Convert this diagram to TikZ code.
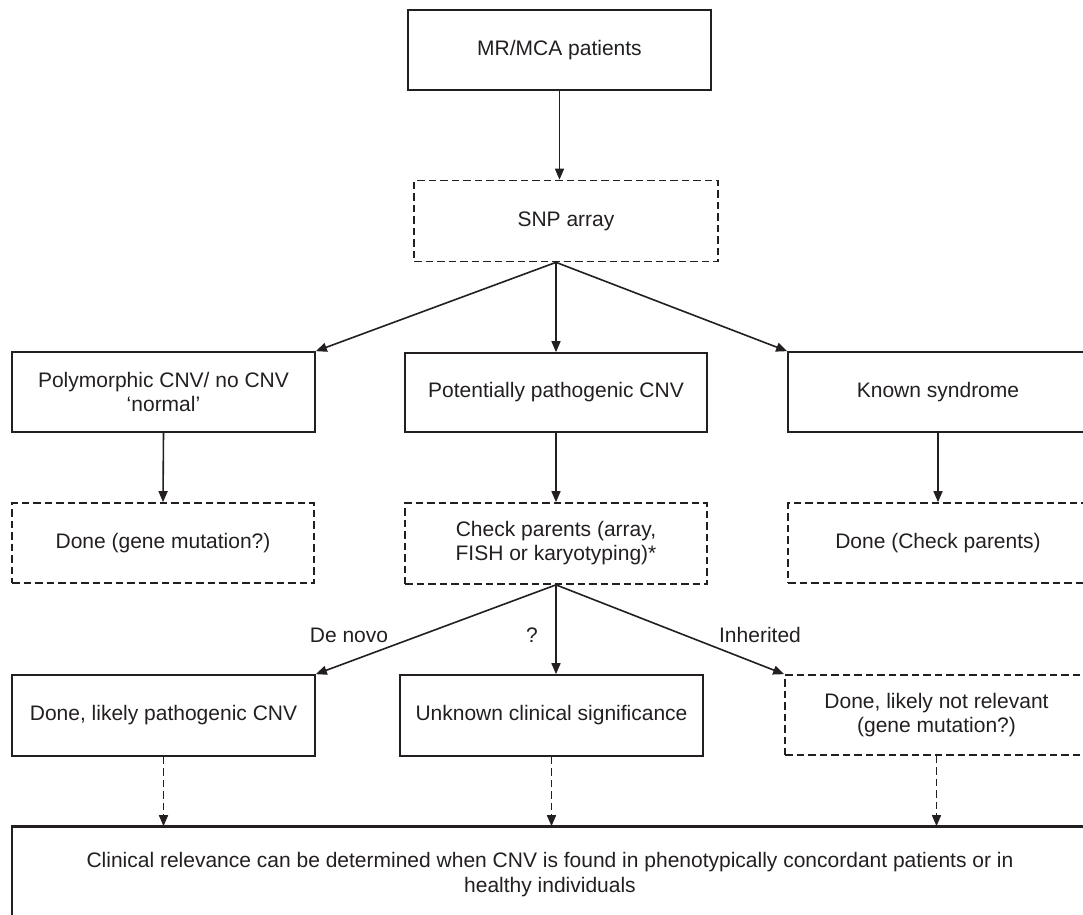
\documentclass[tikz,border=0pt]{standalone}
\usepackage{fontspec}
\setmainfont{Liberation Sans}
\usetikzlibrary{arrows.meta,positioning}
\definecolor{ink}{HTML}{231F20}
\begin{document}
\begin{tikzpicture}[x=1pt,y=-1pt,
  every node/.style={font=\fontsize{21}{25}\selectfont, text=ink},
  solidbox/.style={draw=ink, line width=1.7pt, rectangle, align=center, inner sep=0pt},
  dashbox/.style={solidbox, dash pattern=on 7.5pt off 4pt},
  arr/.style={draw=ink, line width=1.6pt, -{Triangle[length=11pt,width=9pt]}},
  darr/.style={arr, dash pattern=on 7.5pt off 4pt},
  lbl/.style={inner sep=0pt}
]
\useasboundingbox (0,0) rectangle (1083,914);
\clip (0,0) rectangle (1083,914);

% row 0
\node[solidbox, minimum width=303pt, minimum height=80pt] (mr) at (559.5,50) {MR/MCA patients};
\node[dashbox, minimum width=304pt, minimum height=81pt] (snp) at (566,221) {SNP array};

% row 1
\node[solidbox, minimum width=303pt, minimum height=80pt] (poly) at (163.5,392) {Polymorphic CNV/ no CNV\\[-1pt]`normal'};
\node[solidbox, minimum width=302pt, minimum height=79pt] (pot) at (556,392.5) {Potentially pathogenic CNV};
\node[solidbox, minimum width=300pt, minimum height=80pt] (known) at (938,392) {Known syndrome};

% row 2
\node[dashbox, minimum width=302pt, minimum height=80pt] (done1) at (163,543) {Done (gene mutation?)};
\node[dashbox, minimum width=302pt, minimum height=81pt] (check) at (556,543.5) {Check parents (array,\\[-1pt]FISH or karyotyping)*};
\node[dashbox, minimum width=300pt, minimum height=80pt] (done3) at (938,543) {Done (Check parents)};

% row 3
\node[solidbox, minimum width=303pt, minimum height=81pt] (pathog) at (163.5,715.5) {Done, likely pathogenic CNV};
\node[solidbox, minimum width=303pt, minimum height=81pt] (unknown) at (551.5,715.5) {Unknown clinical significance};
\node[dashbox, minimum width=303pt, minimum height=80pt] (notrel) at (936.5,715) {Done, likely not relevant\\[-1pt](gene mutation?)};

% bottom
\node[solidbox, minimum width=1076pt, minimum height=96pt] (final) at (550,875) {Clinical relevance can be determined when CNV is found in phenotypically concordant patients or in\\healthy individuals};
\draw[ink, line width=3.2pt] (final.north west) -- (final.north east);

% connectors
\coordinate (s1) at (pot.north |- snp.south);
\coordinate (s2) at (check.south);
\draw[arr] (mr.south) -- (mr.south |- snp.north);
\draw[arr] (s1) -- (poly.north east);
\draw[arr] (s1) -- (pot.north);
\draw[arr] (s1) -- (known.north west);

\draw[arr] (poly.south) -- (done1.north);
\draw[arr] (pot.south) -- (check.north);
\draw[arr] (known.south) -- (done3.north);

\draw[arr] (s2) -- (pathog.north east);
\draw[arr] (s2) -- (s2 |- unknown.north);
\draw[arr] (s2) -- (notrel.north west);

\draw[darr] (pathog.south) -- (pathog.south |- final.north);
\draw[darr] (unknown.south) -- (unknown.south |- final.north);
\draw[darr] (notrel.south) -- (notrel.south |- final.north);

% edge labels
\node[lbl] (ldn) at (349,635) {De novo};
\node[lbl] (lq) at (532,635) {?};
\node[lbl] (lin) at (760,635) {Inherited};
\end{tikzpicture}
\end{document}
